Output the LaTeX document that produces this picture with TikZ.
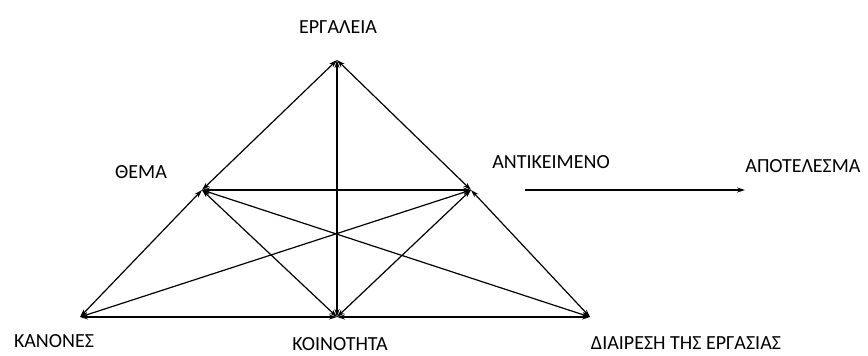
\documentclass[tikz,border=0pt]{standalone}
\usepackage{fontspec}
\setmainfont{Carlito}
\usetikzlibrary{arrows.meta}
\begin{document}
\begin{tikzpicture}[x=1pt,y=-1pt,
  lbl/.style={font=\fontsize{20}{22}\selectfont, inner sep=0pt, anchor=base},
  link/.style={line width=1.2pt, {Stealth[length=8pt,width=5pt]}-{Stealth[length=8pt,width=5pt]}},
  oneway/.style={line width=1.2pt, -{Stealth[length=8pt,width=5pt]}}]
\useasboundingbox (0,0) rectangle (868,356);
\coordinate (T) at (337,60);
\coordinate (S) at (202,190);
\coordinate (O) at (471,190);
\coordinate (R) at (80,317);
\coordinate (C) at (337,317);
\coordinate (D) at (590,317);
\coordinate (Ostart) at (525,190);
\coordinate (Res) at (745,190);

\node[lbl] (ltools) at (338,33) {ΕΡΓΑΛΕΙΑ};
\node[lbl] (lsubj) at (141,178) {ΘΕΜΑ};
\node[lbl] (lobj) at (551,168) {ΑΝΤΙΚΕΙΜΕΝΟ};
\node[lbl] (lres) at (803,172) {ΑΠΟΤΕΛΕΣΜΑ};
\node[lbl] (lrules) at (54,347) {ΚΑΝΟΝΕΣ};
\node[lbl] (lcomm) at (340,350) {ΚΟΙΝΟΤΗΤΑ};
\node[lbl] (ldiv) at (686,349) {ΔΙΑΙΡΕΣΗ ΤΗΣ ΕΡΓΑΣΙΑΣ};

\draw[link] (T) -- (S);
\draw[link] (T) -- (O);
\draw[link] (T) -- (C);
\draw[link] (S) -- (O);
\draw[link] (S) -- (R);
\draw[link] (S) -- (C);
\draw[link] (S) -- (D);
\draw[link] (O) -- (C);
\draw[link] (O) -- (R);
\draw[link] (O) -- (D);
\draw[link] (R) -- (C);
\draw[link] (C) -- (D);
\draw[oneway] (Ostart) -- (Res);
\end{tikzpicture}
\end{document}
